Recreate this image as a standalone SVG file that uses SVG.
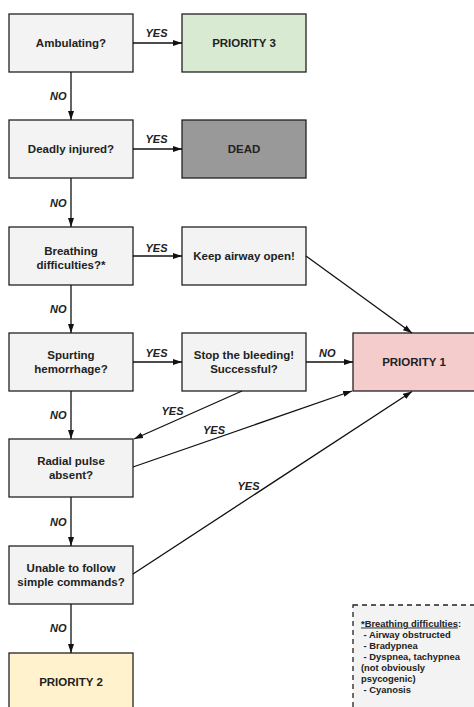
<svg xmlns="http://www.w3.org/2000/svg" width="474" height="707" viewBox="0 0 474 707">
  <style>
    .box { stroke: #222; stroke-width: 1.3; }
    .q { fill: #f3f3f3; }
    .t { font-family: "Liberation Sans", Arial, sans-serif; font-weight: bold; font-size: 11.5px; fill: #222; text-anchor: middle; }
    .lbl { font-family: "Liberation Sans", Arial, sans-serif; font-weight: bold; font-style: italic; font-size: 11px; fill: #222; }
    .edge { stroke: #111; stroke-width: 1.3; fill: none; marker-end: url(#arrow); }
    .note { font-family: "Liberation Sans", Arial, sans-serif; font-weight: bold; font-size: 9.4px; fill: #222; }
  </style>
  <defs>
    <marker id="arrow" markerUnits="userSpaceOnUse" markerWidth="10" markerHeight="8" refX="9" refY="4" orient="auto">
      <path d="M0,1 L9,4 L0,7 Z" fill="#111"/>
    </marker>
  </defs>
  <rect width="474" height="707" fill="#ffffff"/>

  <!-- decision column -->
  <g id="ambulating">
    <rect class="box q" x="9" y="14" width="124" height="58"/>
    <text class="t" x="71" y="47">Ambulating?</text>
  </g>
  <g id="deadly-injured">
    <rect class="box q" x="9" y="120" width="124" height="58"/>
    <text class="t" x="71" y="153">Deadly injured?</text>
  </g>
  <g id="breathing">
    <rect class="box q" x="9" y="227" width="124" height="58"/>
    <text class="t" x="71" y="255">Breathing</text>
    <text class="t" x="71" y="268.5">difficulties?*</text>
  </g>
  <g id="spurting">
    <rect class="box q" x="9" y="333" width="124" height="58"/>
    <text class="t" x="71" y="359">Spurting</text>
    <text class="t" x="71" y="373">hemorrhage?</text>
  </g>
  <g id="radial-pulse">
    <rect class="box q" x="9" y="439" width="124" height="58"/>
    <text class="t" x="71" y="465">Radial pulse</text>
    <text class="t" x="71" y="479">absent?</text>
  </g>
  <g id="commands">
    <rect class="box q" x="9" y="546" width="124" height="58"/>
    <text class="t" x="71" y="572">Unable to follow</text>
    <text class="t" x="71" y="586">simple commands?</text>
  </g>
  <g id="priority-2">
    <rect class="box" fill="#fff2cc" x="9" y="653" width="124" height="60"/>
    <text class="t" x="71" y="686">PRIORITY 2</text>
  </g>

  <!-- outcome / action column -->
  <g id="priority-3">
    <rect class="box" fill="#d9ead3" x="182" y="14" width="124" height="58"/>
    <text class="t" x="244" y="47">PRIORITY 3</text>
  </g>
  <g id="dead">
    <rect class="box" fill="#999999" x="182" y="120" width="124" height="58"/>
    <text class="t" x="244" y="153">DEAD</text>
  </g>
  <g id="keep-airway">
    <rect class="box q" x="182" y="227" width="124" height="58"/>
    <text class="t" x="244" y="260">Keep airway open!</text>
  </g>
  <g id="stop-bleeding">
    <rect class="box q" x="182" y="333" width="124" height="58"/>
    <text class="t" x="244" y="359">Stop the bleeding!</text>
    <text class="t" x="244" y="373">Successful?</text>
  </g>
  <g id="priority-1">
    <rect class="box" fill="#f4cccc" x="353" y="333" width="124" height="58"/>
    <text class="t" x="414" y="366">PRIORITY 1</text>
  </g>

  <!-- footnote -->
  <g id="footnote">
    <rect x="353" y="605" width="130" height="110" fill="#f3f3f3" stroke="#222" stroke-width="1.3" stroke-dasharray="5,4"/>
    <text class="note" x="361" y="626.5"><tspan text-decoration="underline">*Breathing difficulties</tspan>:</text>
    <text class="note" x="363.5" y="637.5">- Airway obstructed</text>
    <text class="note" x="363.5" y="648.5">- Bradypnea</text>
    <text class="note" x="363.5" y="659.5">- Dyspnea, tachypnea</text>
    <text class="note" x="361" y="670.5">(not obviously</text>
    <text class="note" x="361" y="681.5">psycogenic)</text>
    <text class="note" x="363.5" y="692.5">- Cyanosis</text>
  </g>

  <!-- connectors -->
  <g id="connectors">
    <line class="edge" x1="133" y1="43" x2="182" y2="43"/>
    <line class="edge" x1="133" y1="149" x2="182" y2="149"/>
    <line class="edge" x1="133" y1="256" x2="182" y2="256"/>
    <line class="edge" x1="133" y1="362" x2="182" y2="362"/>
    <line class="edge" x1="306" y1="362" x2="353" y2="362"/>

    <line class="edge" x1="71" y1="72" x2="71" y2="120"/>
    <line class="edge" x1="71" y1="178" x2="71" y2="227"/>
    <line class="edge" x1="71" y1="285" x2="71" y2="333"/>
    <line class="edge" x1="71" y1="391" x2="71" y2="439"/>
    <line class="edge" x1="71" y1="497" x2="71" y2="546"/>
    <line class="edge" x1="71" y1="604" x2="71" y2="653"/>

    <line class="edge" x1="306" y1="256" x2="412" y2="333"/>
    <line class="edge" x1="242" y1="391" x2="134" y2="439"/>
    <line class="edge" x1="133" y1="467" x2="352" y2="391"/>
    <line class="edge" x1="133" y1="574" x2="412" y2="391.5"/>

    <text class="lbl" x="145.5" y="36.5">YES</text>
    <text class="lbl" x="145.5" y="142.5">YES</text>
    <text class="lbl" x="145.5" y="252">YES</text>
    <text class="lbl" x="145.5" y="357">YES</text>
    <text class="lbl" x="319" y="357">NO</text>
    <text class="lbl" x="161.5" y="415">YES</text>
    <text class="lbl" x="203" y="434">YES</text>
    <text class="lbl" x="237.5" y="490">YES</text>

    <text class="lbl" x="50" y="100">NO</text>
    <text class="lbl" x="50" y="207">NO</text>
    <text class="lbl" x="50" y="313">NO</text>
    <text class="lbl" x="50" y="419">NO</text>
    <text class="lbl" x="50" y="526">NO</text>
    <text class="lbl" x="50" y="632">NO</text>
  </g>
</svg>
